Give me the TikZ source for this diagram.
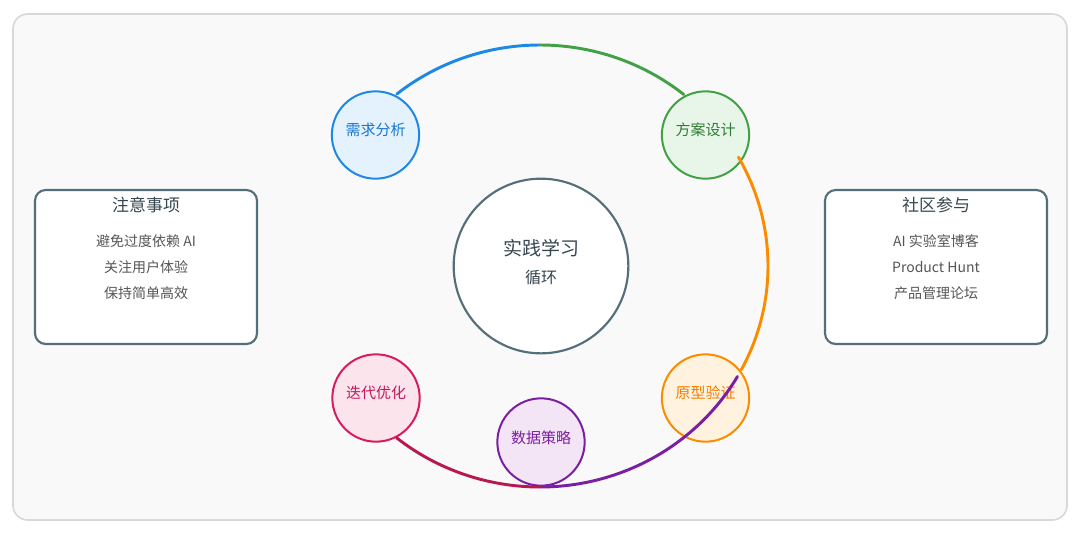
\documentclass[tikz,border=0pt]{standalone}
\usepackage{fontspec}
\usetikzlibrary{calc}
\setmainfont{Noto Sans CJK SC}
\definecolor{frameC}{HTML}{D8D8D8}
\definecolor{bgC}{HTML}{F9F9F9}
\definecolor{slateC}{HTML}{546E7A}
\definecolor{darkT}{HTML}{37474F}
\definecolor{itemT}{HTML}{555555}
\definecolor{blueS}{HTML}{1E88E5}\definecolor{blueF}{HTML}{E3F2FD}\definecolor{blueT}{HTML}{1976D2}
\definecolor{greenS}{HTML}{43A047}\definecolor{greenF}{HTML}{E8F5E9}\definecolor{greenT}{HTML}{2E7D32}
\definecolor{orangeS}{HTML}{FB8C00}\definecolor{orangeF}{HTML}{FFF3E0}\definecolor{orangeT}{HTML}{F57C00}
\definecolor{purpleS}{HTML}{7B1FA2}\definecolor{purpleF}{HTML}{F3E5F5}\definecolor{purpleT}{HTML}{7B1FA2}
\definecolor{pinkS}{HTML}{D81B60}\definecolor{pinkF}{HTML}{FCE4EC}\definecolor{pinkT}{HTML}{C2185B}
\begin{document}
\begin{tikzpicture}[x=0.75pt,y=0.75pt,
  stagenode/.style={circle, minimum size=65.5pt, inner sep=0pt, line width=1.5pt},
  stagetext/.style={font=\fontsize{11.25}{13}\selectfont, inner sep=0pt},
  cyclearc/.style={line width=2.2pt, line cap=round},
  infobox/.style={draw=slateC, fill=white, line width=1.6pt, rounded corners=8pt, minimum width=166.5pt, minimum height=115.5pt, inner sep=0pt},
  boxtitle/.style={text=darkT, font=\fontsize{12.75}{15}\selectfont},
  boxitem/.style={text=itemT, font=\fontsize{10.5}{12}\selectfont}]
\useasboundingbox (0,0) rectangle (1080,-536);
\fill[white] (0,0) rectangle (1080,-536);
\draw[draw=frameC, fill=bgC, line width=1.2pt, rounded corners=11pt] (13,-14) rectangle (1067,-520);

% side boxes
\node[infobox] (leftbox) at (146,-267) {};
\node[boxtitle] (lt) at (146,-205) {注意事项};
\node[boxitem] (l1) at (146,-241) {避免过度依赖 AI};
\node[boxitem] (l2) at (146,-267) {关注用户体验};
\node[boxitem] (l3) at (146,-293) {保持简单高效};

\node[infobox] (rightbox) at (936,-267) {};
\node[boxtitle] (rt) at (936,-205) {社区参与};
\node[boxitem] (r1) at (936,-241) {AI 实验室博客};
\node[boxitem] (r2) at (936,-267) {Product Hunt};
\node[boxitem] (r3) at (936,-293) {产品管理论坛};

% center
\node[circle, draw=slateC, fill=white, line width=1.6pt, minimum size=131pt, inner sep=0pt] (center) at (541,-266) {};
\node[text=darkT, font=\fontsize{14.25}{16}\selectfont] (ct1) at (541,-248) {实践学习};
\node[text=darkT, font=\fontsize{12}{14}\selectfont] (ct2) at (541,-277) {循环};

% stage nodes
\node[stagenode, draw=blueS, fill=blueF] (req) at (375.5,-135) {};
\node[stagenode, draw=greenS, fill=greenF] (des) at (705.5,-135) {};
\node[stagenode, draw=orangeS, fill=orangeF] (pro) at (705.5,-398) {};
\node[stagenode, draw=purpleS, fill=purpleF] (dat) at (541,-442) {};
\node[stagenode, draw=pinkS, fill=pinkF] (ite) at (376,-398) {};
\node[stagetext, text=blueT] (reqt) at ($(req)+(0,5)$) {需求分析};
\node[stagetext, text=greenT] (dest) at ($(des)+(0,5)$) {方案设计};
\node[stagetext, text=orangeT] (prot) at ($(pro)+(0,5)$) {原型验证};
\node[stagetext, text=purpleT] (datt) at ($(dat)+(0,4)$) {数据策略};
\node[stagetext, text=pinkT] (itet) at ($(ite)+(0,5)$) {迭代优化};

% points on the cycle (center (540,-266), radii 228 x 221)
\coordinate (a1) at ($(540,-266)+(128.9:228 and 221)$);
\coordinate (a2) at ($(540,-266)+(90:228 and 221)$);
\coordinate (a4) at ($(540,-266)+(29.5:228 and 221)$);
\coordinate (a5) at ($(540,-266)+(-30:228 and 221)$);
\coordinate (a7) at ($(540,-266)+(-129:228 and 221)$);

\draw[cyclearc, blueS] (a1) arc[start angle=128.9, end angle=90, x radius=228, y radius=221];
\draw[cyclearc, greenS] (a2) arc[start angle=90, end angle=50.9, x radius=228, y radius=221];
\draw[cyclearc, orangeS] (a4) arc[start angle=29.5, end angle=-28, x radius=228, y radius=221];
\draw[cyclearc, purpleS] (a5) arc[start angle=-30, end angle=-90, x radius=228, y radius=221];
\draw[cyclearc, pinkS!85!black] (a7) arc[start angle=-129, end angle=-90, x radius=228, y radius=221];
\end{tikzpicture}
\end{document}
